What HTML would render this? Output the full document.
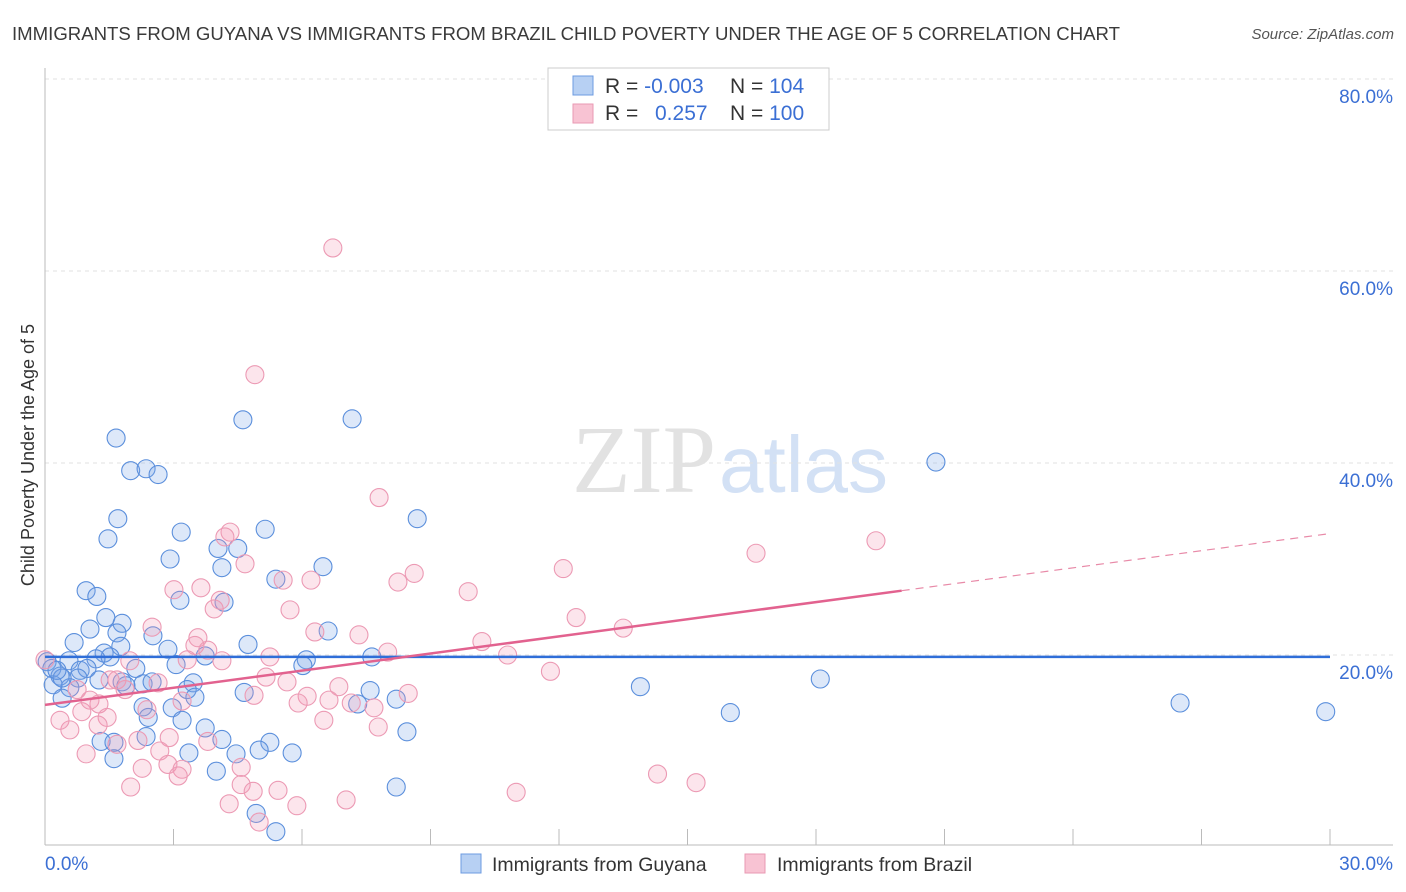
<!DOCTYPE html>
<html><head><meta charset="utf-8">
<style>
body{margin:0;background:#fff;font-family:"Liberation Sans",sans-serif;}
#wrap{position:relative;width:1406px;height:892px;overflow:hidden;}
</style></head>
<body>
<div id="wrap">
<svg id="svg" width="1406" height="892" xmlns="http://www.w3.org/2000/svg">
<text x="12" y="40" font-size="18" fill="#3a3a3a" textLength="1108" lengthAdjust="spacingAndGlyphs">IMMIGRANTS FROM GUYANA VS IMMIGRANTS FROM BRAZIL CHILD POVERTY UNDER THE AGE OF 5 CORRELATION CHART</text>
<text x="1394" y="39" font-size="15" fill="#555" font-style="italic" text-anchor="end">Source: ZipAtlas.com</text>
<text x="716" y="492" font-size="96" fill="#e2e2e2" text-anchor="end" font-family="Liberation Serif,serif">ZIP</text>
<text x="719" y="492" font-size="80" fill="#d3e1f5">atlas</text>
<g id="grid"></g>
<g id="axes"></g>
<g id="pts"></g>
<g id="lines"></g>
<text transform="translate(34,455) rotate(-90)" font-size="18" fill="#333" text-anchor="middle">Child Poverty Under the Age of 5</text>
<g>
<rect x="548" y="68" width="281" height="62" fill="#fff" stroke="#ccc"/>
<rect x="573" y="76" width="20" height="19" fill="#b7d0f3" stroke="#6c9be0"/>
<rect x="573" y="104" width="20" height="19" fill="#f8c3d3" stroke="#e99ab3"/>
<text x="605" y="93" font-size="21" fill="#333">R = <tspan fill="#3b6fd4">-0.003</tspan></text>
<text x="730" y="93" font-size="21" fill="#333">N = <tspan fill="#3b6fd4">104</tspan></text>
<text x="605" y="120" font-size="21" fill="#333">R = <tspan fill="#3b6fd4" x="655">0.257</tspan></text>
<text x="730" y="120" font-size="21" fill="#333">N = <tspan fill="#3b6fd4">100</tspan></text>
</g>
<g>
<rect x="461" y="854" width="20" height="19" fill="#b7d0f3" stroke="#6c9be0"/>
<text x="492" y="871" font-size="19.5" fill="#333">Immigrants from Guyana</text>
<rect x="745" y="854" width="20" height="19" fill="#f8c3d3" stroke="#e99ab3"/>
<text x="777" y="871" font-size="19.5" fill="#333">Immigrants from Brazil</text>
</g>
</svg>
</div>
<script>
const yTicks=[20,40,60,80];
const xTickLabels=["0.0%","30.0%"];
const blueX=[1.66,2.0,2.36,2.64,4.62,7.17,20.8,1.7,1.47,3.18,5.14,8.69,2.92,4.04,4.5,4.13,6.49,5.39,0.96,1.21,3.15,4.18,1.42,1.05,1.8,1.68,2.52,0.68,1.77,2.87,4.74,6.61,1.38,1.52,0.56,1.19,0.05,6.1,7.63,0.16,0.82,0.98,2.12,3.06,3.74,6.02,0.35,0.77,1.26,1.8,2.29,2.5,3.46,0.19,0.58,1.89,3.32,4.65,7.59,13.9,18.1,0.4,3.5,8.2,2.29,2.97,2.41,3.2,7.3,16.0,26.5,29.9,3.74,4.13,2.36,1.31,1.61,5.25,5.0,5.77,8.45,4.46,3.36,1.61,4.0,8.2,4.93,5.39,0.4,0.28];
const blueY=[42.6,39.2,39.4,38.8,44.5,44.6,40.1,34.2,32.1,32.8,33.1,34.2,30.0,31.1,31.1,29.1,29.2,27.9,26.7,26.1,25.7,25.5,23.9,22.7,23.3,22.3,22.0,21.3,20.9,20.6,21.1,22.5,20.2,19.8,19.4,19.6,19.3,19.5,19.8,18.6,18.4,18.6,18.6,19.0,19.9,18.9,17.8,17.6,17.4,17.2,17.0,17.2,17.1,16.9,16.6,16.8,16.4,16.1,16.3,16.7,17.5,15.5,15.6,15.4,14.6,14.5,13.5,13.2,14.9,14.0,15.0,14.1,12.4,11.2,11.5,11.0,10.9,10.9,10.1,9.8,12.0,9.7,9.8,9.2,7.9,6.25,3.5,1.6,17.6,18.4];
const pinkX=[6.72,4.9,7.8,16.6,19.4,4.32,4.2,4.67,12.1,8.62,8.24,6.21,5.56,3.01,3.64,9.88,4.09,3.95,5.72,12.4,13.5,6.3,2.5,7.33,10.2,3.57,3.5,3.8,8.0,10.8,5.25,3.32,1.98,4.13,0,11.8,5.16,5.65,2.64,1.68,0.75,6.86,8.48,6.12,5.91,6.63,4.88,7.15,7.68,0.86,1.26,2.38,3.2,1.45,1.24,0.58,0.35,6.51,7.78,3.8,2.9,2.17,1.68,0.96,2.68,2.87,3.2,2.27,4.58,3.11,14.3,15.2,2.0,4.58,4.86,5.44,11.0,4.3,5.88,7.03,5.0,1.52,1.87,1.05];
const pinkY=[62.4,49.2,36.4,30.6,31.9,32.8,32.3,29.5,29.0,28.5,27.6,27.8,27.8,26.8,27.0,26.6,25.7,24.8,24.7,23.9,22.8,22.4,22.9,22.1,21.4,21.8,21.0,20.5,20.3,20.0,19.8,19.5,19.4,19.4,19.5,18.3,17.7,17.2,17.1,17.4,16.4,16.7,16.0,15.7,15.0,15.3,15.8,15.0,14.5,14.1,14.9,14.3,15.2,13.5,12.7,12.2,13.2,13.2,12.5,11.0,11.4,11.1,10.7,9.7,10.0,8.6,8.1,8.2,8.3,7.4,7.6,6.7,6.25,6.5,5.8,5.9,5.7,4.5,4.3,4.9,2.6,17.4,16.4,15.3];
const blueTrend=[19.8,19.8];
const pinkTrend=[14.8,32.65];
const pinkSolidEnd=20;

const X=v=>45+v/30*1285;
const Y=v=>847-v*9.6;
const NS="http://www.w3.org/2000/svg";
function mk(t,a,parent){const e=document.createElementNS(NS,t);for(const k in a)e.setAttribute(k,a[k]);parent.appendChild(e);return e;}
const grid=document.getElementById('grid'),axes=document.getElementById('axes'),pts=document.getElementById('pts'),lines=document.getElementById('lines');
yTicks.forEach(t=>{
  const l=mk('line',{x1:45,x2:1393,y1:Y(t),y2:Y(t),stroke:'#e2e2e2','stroke-dasharray':'4,4'},grid);
  
  
  const tx=mk('text',{x:1393,y:Y(t)+24,'font-size':19,fill:'#3b6fd4','text-anchor':'end'},grid);
  tx.textContent=t.toFixed(1)+'%';
  
  
});
const ax=mk('line',{x1:45,x2:1393,y1:845,y2:845,stroke:'#bbb'},axes);


const ay=mk('line',{x1:45,x2:45,y1:68,y2:845,stroke:'#bbb'},axes);


for(let k=1;k<=10;k++){
  const tk=mk('line',{x1:X(k*3),x2:X(k*3),y1:829,y2:845,stroke:'#bbb'},axes);
  
  
}
const xl0=mk('text',{x:45,y:870,'font-size':19,fill:'#3b6fd4'},axes);xl0.textContent=xTickLabels[0];


const xl1=mk('text',{x:1393,y:870,'font-size':19,fill:'#3b6fd4','text-anchor':'end'},axes);xl1.textContent=xTickLabels[1];


blueX.forEach((v,i)=>{
  const c=mk('circle',{cx:X(v),cy:Y(blueY[i]),r:9,fill:'rgba(120,165,232,0.25)',stroke:'#5b8fdc','stroke-width':1.1},pts);
  
  
});
pinkX.forEach((v,i)=>{
  const c=mk('circle',{cx:X(v),cy:Y(pinkY[i]),r:9,fill:'rgba(242,150,178,0.25)',stroke:'#ec9ab4','stroke-width':1.1},pts);
  
  
});
const bl=mk('line',{x1:X(0),x2:X(30),y1:Y(blueTrend[0]),y2:Y(blueTrend[1]),stroke:'#2f6ed8','stroke-width':2.5},lines);


const py=x=>pinkTrend[0]+(pinkTrend[1]-pinkTrend[0])*x/30;
const pl=mk('line',{x1:X(0),x2:X(pinkSolidEnd),y1:Y(py(0)),y2:Y(py(pinkSolidEnd)),stroke:'#e2628f','stroke-width':2.5},lines);


const pd=mk('line',{x1:X(pinkSolidEnd),x2:X(30),y1:Y(py(pinkSolidEnd)),y2:Y(py(30)),stroke:'#e88aa8','stroke-width':1.2,'stroke-dasharray':'8,6'},lines);


</script>
</body></html>
